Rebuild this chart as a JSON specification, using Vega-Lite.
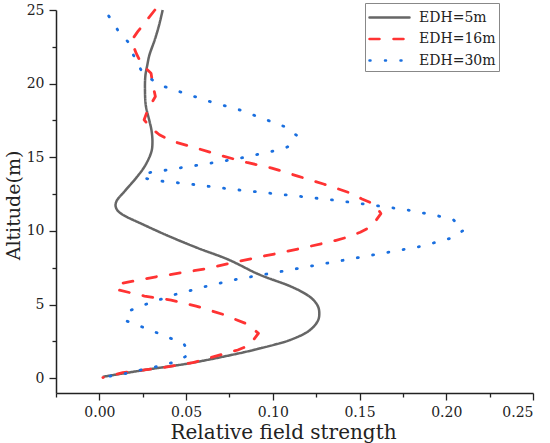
{
  "$schema": "https://vega.github.io/schema/vega-lite/v6.json",
  "width": 477,
  "height": 383,
  "autosize": "none",
  "padding": {"left": 56, "top": 10, "right": 17, "bottom": 50},
  "background": "white",
  "data": {
    "values": [
      {"s": "EDH=5m", "i": 0, "x": 0.0365, "y": 25},
      {"s": "EDH=5m", "i": 1, "x": 0.0345, "y": 24},
      {"s": "EDH=5m", "i": 2, "x": 0.032, "y": 23},
      {"s": "EDH=5m", "i": 3, "x": 0.029, "y": 22},
      {"s": "EDH=5m", "i": 4, "x": 0.0277, "y": 21.3},
      {"s": "EDH=5m", "i": 5, "x": 0.0265, "y": 20.5},
      {"s": "EDH=5m", "i": 6, "x": 0.0263, "y": 19.5},
      {"s": "EDH=5m", "i": 7, "x": 0.0268, "y": 18.5},
      {"s": "EDH=5m", "i": 8, "x": 0.0288, "y": 17.5},
      {"s": "EDH=5m", "i": 9, "x": 0.0301, "y": 16.8},
      {"s": "EDH=5m", "i": 10, "x": 0.0306, "y": 16.0},
      {"s": "EDH=5m", "i": 11, "x": 0.0298, "y": 15.3},
      {"s": "EDH=5m", "i": 12, "x": 0.0262, "y": 14.4},
      {"s": "EDH=5m", "i": 13, "x": 0.0212, "y": 13.6},
      {"s": "EDH=5m", "i": 14, "x": 0.0146, "y": 12.7},
      {"s": "EDH=5m", "i": 15, "x": 0.0100, "y": 12.05},
      {"s": "EDH=5m", "i": 16, "x": 0.0097, "y": 11.55},
      {"s": "EDH=5m", "i": 17, "x": 0.0135, "y": 11.1},
      {"s": "EDH=5m", "i": 18, "x": 0.025, "y": 10.45},
      {"s": "EDH=5m", "i": 19, "x": 0.040, "y": 9.65},
      {"s": "EDH=5m", "i": 20, "x": 0.0565, "y": 8.85},
      {"s": "EDH=5m", "i": 21, "x": 0.0745, "y": 8.05},
      {"s": "EDH=5m", "i": 22, "x": 0.092, "y": 7.05},
      {"s": "EDH=5m", "i": 23, "x": 0.110, "y": 6.25},
      {"s": "EDH=5m", "i": 24, "x": 0.1205, "y": 5.6},
      {"s": "EDH=5m", "i": 25, "x": 0.1255, "y": 5.0},
      {"s": "EDH=5m", "i": 26, "x": 0.1268, "y": 4.4},
      {"s": "EDH=5m", "i": 27, "x": 0.1255, "y": 3.8},
      {"s": "EDH=5m", "i": 28, "x": 0.120, "y": 3.15},
      {"s": "EDH=5m", "i": 29, "x": 0.110, "y": 2.6},
      {"s": "EDH=5m", "i": 30, "x": 0.100, "y": 2.25},
      {"s": "EDH=5m", "i": 31, "x": 0.080, "y": 1.68},
      {"s": "EDH=5m", "i": 32, "x": 0.052, "y": 1.02},
      {"s": "EDH=5m", "i": 33, "x": 0.027, "y": 0.58},
      {"s": "EDH=5m", "i": 34, "x": 0.002, "y": 0.1},

      {"s": "EDH=16m", "i": 0, "x": 0.032, "y": 25.0},
      {"s": "EDH=16m", "i": 1, "x": 0.0221, "y": 23.53},
      {"s": "EDH=16m", "i": 2, "x": 0.0185, "y": 22.92},
      {"s": "EDH=16m", "i": 3, "x": 0.0212, "y": 22.07},
      {"s": "EDH=16m", "i": 4, "x": 0.0246, "y": 21.27},
      {"s": "EDH=16m", "i": 5, "x": 0.0298, "y": 20.71},
      {"s": "EDH=16m", "i": 6, "x": 0.0308, "y": 19.92},
      {"s": "EDH=16m", "i": 7, "x": 0.0323, "y": 19.13},
      {"s": "EDH=16m", "i": 8, "x": 0.0279, "y": 18.22},
      {"s": "EDH=16m", "i": 9, "x": 0.0258, "y": 17.55},
      {"s": "EDH=16m", "i": 10, "x": 0.0298, "y": 16.98},
      {"s": "EDH=16m", "i": 11, "x": 0.0346, "y": 16.53},
      {"s": "EDH=16m", "i": 12, "x": 0.0414, "y": 16.12},
      {"s": "EDH=16m", "i": 13, "x": 0.0558, "y": 15.63},
      {"s": "EDH=16m", "i": 14, "x": 0.0706, "y": 15.1},
      {"s": "EDH=16m", "i": 15, "x": 0.085, "y": 14.65},
      {"s": "EDH=16m", "i": 16, "x": 0.0994, "y": 14.27},
      {"s": "EDH=16m", "i": 17, "x": 0.1148, "y": 13.71},
      {"s": "EDH=16m", "i": 18, "x": 0.1292, "y": 13.19},
      {"s": "EDH=16m", "i": 19, "x": 0.1436, "y": 12.62},
      {"s": "EDH=16m", "i": 20, "x": 0.1514, "y": 12.17},
      {"s": "EDH=16m", "i": 21, "x": 0.159, "y": 11.79},
      {"s": "EDH=16m", "i": 22, "x": 0.1623, "y": 11.18},
      {"s": "EDH=16m", "i": 23, "x": 0.1571, "y": 10.32},
      {"s": "EDH=16m", "i": 24, "x": 0.1504, "y": 9.91},
      {"s": "EDH=16m", "i": 25, "x": 0.1436, "y": 9.6},
      {"s": "EDH=16m", "i": 26, "x": 0.136, "y": 9.35},
      {"s": "EDH=16m", "i": 27, "x": 0.1215, "y": 8.96},
      {"s": "EDH=16m", "i": 28, "x": 0.1061, "y": 8.56},
      {"s": "EDH=16m", "i": 29, "x": 0.0917, "y": 8.22},
      {"s": "EDH=16m", "i": 30, "x": 0.0764, "y": 7.84},
      {"s": "EDH=16m", "i": 31, "x": 0.0615, "y": 7.43},
      {"s": "EDH=16m", "i": 32, "x": 0.0471, "y": 7.16},
      {"s": "EDH=16m", "i": 33, "x": 0.0327, "y": 6.89},
      {"s": "EDH=16m", "i": 34, "x": 0.0164, "y": 6.52},
      {"s": "EDH=16m", "i": 35, "x": 0.0096, "y": 6.37},
      {"s": "EDH=16m", "i": 36, "x": 0.0115, "y": 5.98},
      {"s": "EDH=16m", "i": 37, "x": 0.026, "y": 5.58},
      {"s": "EDH=16m", "i": 38, "x": 0.0414, "y": 5.3},
      {"s": "EDH=16m", "i": 39, "x": 0.0558, "y": 4.9},
      {"s": "EDH=16m", "i": 40, "x": 0.0712, "y": 4.34},
      {"s": "EDH=16m", "i": 41, "x": 0.0856, "y": 3.66},
      {"s": "EDH=16m", "i": 42, "x": 0.0917, "y": 3.05},
      {"s": "EDH=16m", "i": 43, "x": 0.0865, "y": 2.24},
      {"s": "EDH=16m", "i": 44, "x": 0.0798, "y": 1.92},
      {"s": "EDH=16m", "i": 45, "x": 0.0539, "y": 1.06},
      {"s": "EDH=16m", "i": 46, "x": 0.0366, "y": 0.72},
      {"s": "EDH=16m", "i": 47, "x": 0.0135, "y": 0.39},
      {"s": "EDH=16m", "i": 48, "x": 0.0077, "y": 0.2},
      {"s": "EDH=16m", "i": 49, "x": 0.002, "y": 0.05},

      {"s": "EDH=30m", "i": 0, "x": 0.0054, "y": 24.59},
      {"s": "EDH=30m", "i": 1, "x": 0.0106, "y": 23.64},
      {"s": "EDH=30m", "i": 2, "x": 0.0164, "y": 22.85},
      {"s": "EDH=30m", "i": 3, "x": 0.0196, "y": 21.95},
      {"s": "EDH=30m", "i": 4, "x": 0.024, "y": 20.93},
      {"s": "EDH=30m", "i": 5, "x": 0.0304, "y": 20.26},
      {"s": "EDH=30m", "i": 6, "x": 0.0375, "y": 19.8},
      {"s": "EDH=30m", "i": 7, "x": 0.0461, "y": 19.46},
      {"s": "EDH=30m", "i": 8, "x": 0.0635, "y": 18.79},
      {"s": "EDH=30m", "i": 9, "x": 0.0808, "y": 18.22},
      {"s": "EDH=30m", "i": 10, "x": 0.0973, "y": 17.5},
      {"s": "EDH=30m", "i": 11, "x": 0.1064, "y": 17.1},
      {"s": "EDH=30m", "i": 12, "x": 0.1136, "y": 16.5},
      {"s": "EDH=30m", "i": 13, "x": 0.1085, "y": 15.7},
      {"s": "EDH=30m", "i": 14, "x": 0.0994, "y": 15.4},
      {"s": "EDH=30m", "i": 15, "x": 0.0817, "y": 14.95},
      {"s": "EDH=30m", "i": 16, "x": 0.0639, "y": 14.6},
      {"s": "EDH=30m", "i": 17, "x": 0.0461, "y": 14.27},
      {"s": "EDH=30m", "i": 18, "x": 0.0279, "y": 13.94},
      {"s": "EDH=30m", "i": 19, "x": 0.0245, "y": 13.62},
      {"s": "EDH=30m", "i": 20, "x": 0.0337, "y": 13.41},
      {"s": "EDH=30m", "i": 21, "x": 0.0519, "y": 13.19},
      {"s": "EDH=30m", "i": 22, "x": 0.0789, "y": 12.8},
      {"s": "EDH=30m", "i": 23, "x": 0.1058, "y": 12.47},
      {"s": "EDH=30m", "i": 24, "x": 0.1327, "y": 12.13},
      {"s": "EDH=30m", "i": 25, "x": 0.1596, "y": 11.72},
      {"s": "EDH=30m", "i": 26, "x": 0.1775, "y": 11.43},
      {"s": "EDH=30m", "i": 27, "x": 0.1954, "y": 11.02},
      {"s": "EDH=30m", "i": 28, "x": 0.2042, "y": 10.75},
      {"s": "EDH=30m", "i": 29, "x": 0.21, "y": 10.05},
      {"s": "EDH=30m", "i": 30, "x": 0.2033, "y": 9.53},
      {"s": "EDH=30m", "i": 31, "x": 0.1856, "y": 8.96},
      {"s": "EDH=30m", "i": 32, "x": 0.159, "y": 8.4},
      {"s": "EDH=30m", "i": 33, "x": 0.1325, "y": 7.84},
      {"s": "EDH=30m", "i": 34, "x": 0.1058, "y": 7.27},
      {"s": "EDH=30m", "i": 35, "x": 0.0789, "y": 6.71},
      {"s": "EDH=30m", "i": 36, "x": 0.0612, "y": 6.23},
      {"s": "EDH=30m", "i": 37, "x": 0.0438, "y": 5.69},
      {"s": "EDH=30m", "i": 38, "x": 0.0265, "y": 5.01},
      {"s": "EDH=30m", "i": 39, "x": 0.0183, "y": 4.63},
      {"s": "EDH=30m", "i": 40, "x": 0.0148, "y": 3.93},
      {"s": "EDH=30m", "i": 41, "x": 0.0317, "y": 3.16},
      {"s": "EDH=30m", "i": 42, "x": 0.0487, "y": 2.35},
      {"s": "EDH=30m", "i": 43, "x": 0.0519, "y": 1.63},
      {"s": "EDH=30m", "i": 44, "x": 0.0452, "y": 1.17},
      {"s": "EDH=30m", "i": 45, "x": 0.0366, "y": 0.88},
      {"s": "EDH=30m", "i": 46, "x": 0.0193, "y": 0.45},
      {"s": "EDH=30m", "i": 47, "x": 0.0106, "y": 0.2},
      {"s": "EDH=30m", "i": 48, "x": 0.002, "y": 0.1}
    ]
  },
  "encoding": {
    "x": {
      "field": "x",
      "type": "quantitative",
      "scale": {"domain": [-0.025, 0.25], "nice": false, "zero": false},
      "axis": {
        "title": "Relative field strength",
        "titleFontSize": 20,
        "titleX": 227,
        "titleY": 45,
        "titleAlign": "center",
        "titleBaseline": "alphabetic",
        "values": [-0.025, 0, 0.025, 0.05, 0.075, 0.1, 0.125, 0.15, 0.175, 0.2, 0.225, 0.25],
        "format": ".2f",
        "labelExpr": "round(datum.value * 1000) % 50 == 0 ? datum.label : ''",
        "tickSize": {"condition": {"test": "round(datum.value * 1000) % 50 == 0", "value": 7}, "value": 4},
        "labelPadding": 5
      }
    },
    "y": {
      "field": "y",
      "type": "quantitative",
      "scale": {"domain": [-1, 25], "nice": false, "zero": false},
      "axis": {
        "title": "Altitude(m)",
        "titleFontSize": 19,
        "titleX": -43,
        "titleY": 195,
        "titleAlign": "center",
        "titleBaseline": "middle",
        "values": [0, 2.5, 5, 7.5, 10, 12.5, 15, 17.5, 20, 22.5, 25],
        "format": "d",
        "labelExpr": "datum.value % 5 == 0 ? datum.label : ''",
        "tickSize": {"condition": {"test": "datum.value % 5 == 0", "value": 7}, "value": 4},
        "labelPadding": 5
      }
    },
    "order": {"field": "i", "type": "quantitative"},
    "color": {
      "field": "s",
      "type": "nominal",
      "scale": {
        "domain": ["EDH=5m", "EDH=16m", "EDH=30m"],
        "range": ["#666666", "#ff3333", "#1a6fdf"]
      },
      "legend": {"encode": {"symbols": {"update": {"strokeCap": {"value": "round"}}}}}
    },
    "strokeDash": {
      "field": "s",
      "type": "nominal",
      "scale": {
        "domain": ["EDH=5m", "EDH=16m", "EDH=30m"],
        "range": [[1, 0], [10, 14], [1, 14.5]]
      },
      "legend": {"encode": {"symbols": {"update": {"strokeCap": {"value": "round"}}}}}
    }
  },
  "layer": [
    {
      "transform": [{"filter": "datum.s == 'EDH=5m'"}],
      "mark": {"type": "line", "interpolate": "cardinal", "strokeWidth": 2.5}
    },
    {
      "transform": [{"filter": "datum.s != 'EDH=5m'"}],
      "mark": {"type": "line", "strokeWidth": 2.8, "strokeCap": "round", "strokeJoin": "round"}
    }
  ],
  "config": {
    "view": {"stroke": null},
    "axis": {
      "grid": false,
      "domainColor": "#222222",
      "domainWidth": 1.5,
      "tickColor": "#222222",
      "tickWidth": 1.3,
      "labelFont": "DejaVu Serif",
      "labelFontSize": 14,
      "labelColor": "#222222",
      "labelOverlap": false,
      "titleFont": "DejaVu Serif",
      "titleFontWeight": "normal",
      "titleColor": "#222222"
    },
    "legend": {
      "orient": "none",
      "legendX": 309,
      "legendY": -7,
      "title": null,
      "strokeColor": "#888888",
      "fillColor": "white",
      "padding": 3,
      "rowPadding": 2.5,
      "symbolType": "M-1,0H3",
      "symbolSize": 400,
      "symbolStrokeWidth": 2.5,
      "labelOffset": 28,
      "labelFont": "DejaVu Serif",
      "labelFontSize": 14,
      "labelColor": "#222222"
    }
  }
}
